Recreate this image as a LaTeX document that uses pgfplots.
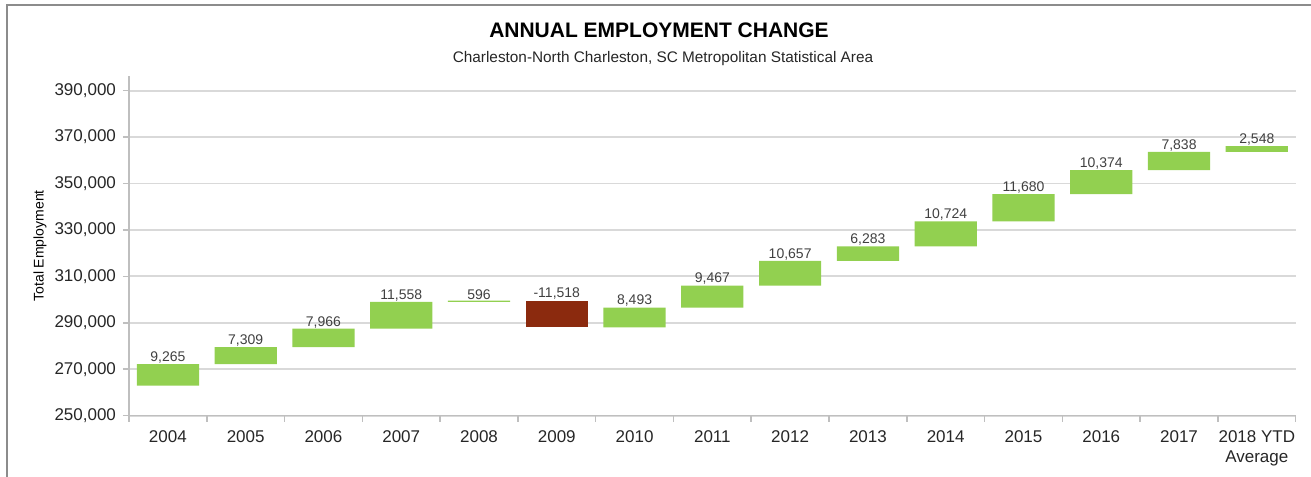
\documentclass[border=0pt]{standalone}
\usepackage{pgfplots}
\pgfplotsset{compat=1.18}
\usepackage{pgfplotstable}
\usepackage{fontspec}
\setmainfont{Liberation Sans}
\definecolor{barg}{HTML}{92D050}
\definecolor{barr}{HTML}{8B2A0E}
\definecolor{gridc}{HTML}{D9D9D9}
\definecolor{axc}{HTML}{BFBFBF}
\definecolor{txt}{HTML}{262626}
\definecolor{lbl}{HTML}{404040}
\definecolor{frm}{HTML}{8C8C8C}

\pgfplotstableread{
x  base   green  red   top    lab
0  262900 9265   0     272165 9,265
1  272165 7309   0     279474 7,309
2  279474 7966   0     287440 7,966
3  287440 11558  0     298998 11,558
4  298998 596    0     299594 596
5  288076 0      11518 299594 -11,518
6  288076 8493   0     296569 8,493
7  296569 9467   0     306036 9,467
8  306036 10657  0     316693 10,657
9  316693 6283   0     322976 6,283
10 322976 10724  0     333700 10,724
11 333700 11680  0     345380 11,680
12 345380 10374  0     355754 10,374
13 355754 7838   0     363592 7,838
14 363592 2548   0     366140 2,548
}\data

\pgfplotsset{common/.style={
  at={(0,0)}, anchor=south west,
  scale only axis, width=583.35bp, height=169.83bp,
  xmin=-0.5, xmax=14.5, ymin=250000, ymax=396320,
  enlargelimits=false}}

\begin{document}
\begin{tikzpicture}
\begin{axis}[
  common,
  ybar stacked, bar width=0.8,
  axis x line*=bottom, axis y line*=left,
  axis line style={-, draw=axc, line width=0.75bp},
  tick align=outside,
  major tick length=3bp,
  tick style={draw=axc, line width=0.75bp},
  ytick={250000,270000,...,390000},
  scaled y ticks=false,
  yticklabel={\pgfmathprintnumber[fixed,1000 sep={,},assume math mode=true]{\tick}},
  yticklabel style={font=\fontsize{8.5bp}{10bp}\selectfont, text=txt},
  xtick={-0.5,0.5,...,14.5},
  x tick label as interval,
  xticklabels={2004,2005,2006,2007,2008,2009,2010,2011,2012,2013,2014,2015,2016,2017,{2018 YTD\\Average}},
  xticklabel style={font=\fontsize{8.5bp}{10bp}\selectfont, text=txt, align=center, yshift=-1.2bp},
  ymajorgrids,
  major grid style={draw=gridc, line width=0.9bp},
  every axis y label/.style={at={(axis description cs:0,0.5)}, xshift=-44.5bp, rotate=90, anchor=center},
  ylabel={Total Employment},
  ylabel style={font=\fontsize{7bp}{8bp}\selectfont, text=black},
]
\addplot[fill=none, draw=none] table[x=x, y=base] {\data};
\addplot[fill=barg, draw=none] table[x=x, y=green] {\data};
\addplot[fill=barr, draw=none] table[x=x, y=red] {\data};
\end{axis}
\begin{axis}[common, hide axis]
\addplot[only marks, mark=none,
  point meta=explicit symbolic,
  nodes near coords,
  every node near coord/.append style={font=\fontsize{7bp}{8bp}\selectfont, text=lbl, anchor=south, inner sep=0.2bp}]
  table[x=x, y=top, meta=lab] {\data};
\end{axis}
\draw[frm, line width=1bp] (-61bp,-30.67bp) -- (-61bp,205.33bp) -- (591bp,205.33bp);
\node[anchor=base, font=\bfseries\fontsize{10.5bp}{12bp}\selectfont, text=black] at (265bp,189.1bp) {ANNUAL EMPLOYMENT CHANGE};
\node[anchor=base, font=\fontsize{7.67bp}{9bp}\selectfont, text=txt] at (267bp,176.6bp) {Charleston-North Charleston, SC Metropolitan Statistical Area};
\pgfresetboundingbox
\useasboundingbox (-64.5bp,-30.67bp) rectangle (591bp,207.83bp);
\end{tikzpicture}
\end{document}
